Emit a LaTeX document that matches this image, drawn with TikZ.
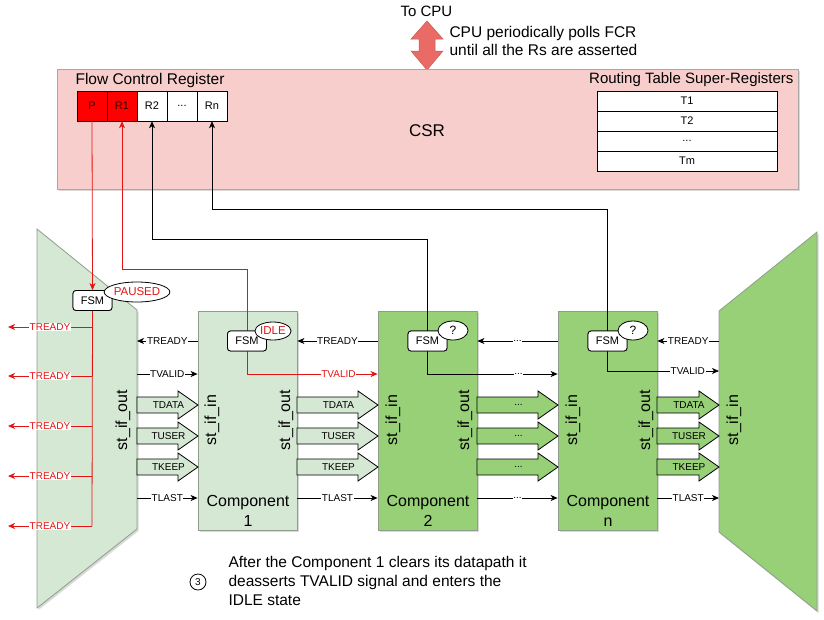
\documentclass[tikz,border=0pt]{standalone}
\usepackage{fontspec}
\setmainfont{Liberation Sans}
\usetikzlibrary{arrows.meta,shadows,shapes.geometric,calc}
\definecolor{lgreen}{HTML}{D5E8D4}
\definecolor{dgreen}{HTML}{97D077}
\definecolor{gborder}{HTML}{8E9E8A}
\definecolor{csrfill}{HTML}{F8CECC}
\definecolor{csrborder}{HTML}{A8A8A8}
\definecolor{sigred}{HTML}{E31414}
\definecolor{regred}{HTML}{FF0000}
\definecolor{arrowred}{HTML}{EA6B66}
\newcommand{\sigblock}[5]{%
  \filldraw[fill=#4, draw=black, line width=0.8pt] (#1,#3-8) -- (#2-20,#3-8) -- (#2-20,#3-14) -- (#2,#3) -- (#2-20,#3+14) -- (#2-20,#3+8) -- (#1,#3+8) -- cycle;
  \node[font=\fontsize{10}{12}\selectfont] at ({(#1+#2)/2+1},#3) {#5};
}
\begin{document}
\begin{tikzpicture}[x=1pt,y=-1pt,
  font=\fontsize{10}{12}\selectfont,
  >={Stealth[length=7pt,width=6pt,inset=2pt]},
  shd/.style={drop shadow={shadow xshift=1.5pt,shadow yshift=-2pt,opacity=0.25,fill=black!60}},
  sig/.style={draw=black,line width=0.8pt,->},
  rsig/.style={draw=sigred,line width=0.8pt},
  lbl/.style={fill=white,inner sep=0.6pt,font=\fontsize{10}{12}\selectfont},
  regcell/.style={draw=black,minimum width=30pt,minimum height=30pt,inner sep=0pt,font=\fontsize{11}{13}\selectfont},
  tabrow/.style={draw=black,fill=white,minimum width=180pt,minimum height=20pt,inner sep=0pt,font=\fontsize{11}{13}\selectfont},
  compbox/.style={draw=gborder,line width=0.8pt,minimum width=99pt,minimum height=219pt,inner sep=0pt,shd},
  fsmbox/.style={draw=black,fill=white,rounded corners=3pt,line width=0.8pt,minimum width=39pt,minimum height=20pt,inner sep=0pt,font=\fontsize{11}{13}\selectfont},
  stbub/.style={ellipse,draw=black,fill=white,line width=0.8pt,inner sep=0pt,font=\fontsize{11.5}{13}\selectfont},
  ifl/.style={rotate=90,font=\fontsize{16}{19}\selectfont},
  cname/.style={align=center,font=\fontsize{16}{20}\selectfont}
]
\useasboundingbox (0,0) rectangle (824,619);

% ---------- top: CPU arrow ----------
\node[font=\fontsize{15}{18}\selectfont] (tocpu) at (426.5,11) {To CPU};
\filldraw[fill=arrowred,draw=arrowred!85!black,line width=0.5pt]
  (427,21) -- (443,39) -- (435,39) -- (435,51) -- (443,51) -- (427,70) -- (411,51) -- (419,51) -- (419,39) -- (411,39) -- cycle;
\node[anchor=west,align=left,font=\fontsize{15.5}{18}\selectfont] (cpunote) at (446,41) {CPU periodically polls FCR\\until all the Rs are asserted};

% ---------- CSR ----------
\node[draw=csrborder,fill=csrfill,line width=0.8pt,minimum width=741pt,minimum height=120pt,inner sep=0pt,shd] (csr) at (427.5,129) {};
\node[font=\fontsize{17}{20}\selectfont] (csrlbl) at (427,131) {CSR};
\node[anchor=west,font=\fontsize{15.5}{18}\selectfont] (fcrlbl) at (72,80) {Flow Control Register};
\node[regcell,fill=regred,text=black!80!red] (p)  at (92,106)  {P};
\node[regcell,fill=regred,text=black!80!red] (r1) at (122,106) {R1};
\node[regcell,fill=white] (r2) at (152,106) {R2};
\node[regcell,fill=white] (rd) at (182,106) {...};
\node[regcell,fill=white] (rn) at (212,106) {Rn};
\node[anchor=east,font=\fontsize{15}{18}\selectfont] (rtlbl) at (797,80) {Routing Table Super-Registers};
\node[tabrow] (t1) at (687,101) {T1};
\node[tabrow] (t2) at (687,121) {T2};
\node[tabrow] (t3) at (687,141) {...};
\node[tabrow] (tm) at (687,161) {Tm};

% ---------- trapezoids ----------
\filldraw[fill=lgreen,draw=gborder,line width=0.8pt,shd] (37,229) -- (137,310) -- (137,529) -- (37,608) -- cycle;
\filldraw[fill=dgreen,draw=gborder,line width=0.8pt,shd] (719,311) -- (817,232) -- (817,611) -- (719,532) -- cycle;
\node[ifl] (ltif) at (123,420) {st\_if\_out};
\node[ifl] (rtif) at (734,420) {st\_if\_in};

% ---------- components ----------
\node[compbox,fill=lgreen] (c1) at (247.5,420.5) {};
\node[compbox,fill=dgreen] (c2) at (427.5,420.5) {};
\node[compbox,fill=dgreen] (cn) at (607.5,420.5) {};
\node[ifl] at (212,420) {st\_if\_in};
\node[ifl] at (286,420) {st\_if\_out};
\node[ifl] at (393,420) {st\_if\_in};
\node[ifl] at (465,420) {st\_if\_out};
\node[ifl] at (573,420) {st\_if\_in};
\node[ifl] at (646,420) {st\_if\_out};
\node[cname] at (248,511) {Component\\1};
\node[cname] at (428,511) {Component\\2};
\node[cname] at (608,511) {Component\\n};

% ---------- row coordinates ----------
\coordinate (lt-rdy) at (137,341);
\coordinate (lt-vld) at (137,374);
\coordinate (lt-lst) at (137,498);
\coordinate (rt-rdy) at (719,341);
\coordinate (rt-vld) at (719,371);
\coordinate (rt-lst) at (719,498);

% ---------- gap: left trapezoid -> component 1 ----------
\draw[sig] (c1.west |- lt-rdy) -- (lt-rdy) node[midway,lbl]{TREADY};
\draw[sig] (lt-vld) -- (c1.west |- lt-vld) node[midway,lbl]{TVALID};
\sigblock{137}{198}{405}{lgreen}{TDATA}
\sigblock{137}{198}{436}{lgreen}{TUSER}
\sigblock{137}{198}{467}{lgreen}{TKEEP}
\draw[sig] (lt-lst) -- (c1.west |- lt-lst) node[midway,lbl]{TLAST};

% ---------- gap: component 1 -> component 2 ----------
\draw[sig] (c2.west |- lt-rdy) -- (c1.east |- lt-rdy) node[midway,lbl]{TREADY};
\sigblock{297}{378}{405}{lgreen}{TDATA}
\sigblock{297}{378}{436}{lgreen}{TUSER}
\sigblock{297}{378}{467}{lgreen}{TKEEP}
\draw[sig] (c1.east |- lt-lst) -- (c2.west |- lt-lst) node[midway,lbl]{TLAST};

% ---------- gap: component 2 -> component n ----------
\draw[sig] (cn.west |- lt-rdy) -- (c2.east |- lt-rdy) node[midway,lbl]{...};
\sigblock{477}{558}{405}{dgreen}{...}
\sigblock{477}{558}{436}{dgreen}{...}
\sigblock{477}{558}{467}{dgreen}{...}
\draw[sig] (c2.east |- lt-lst) -- (cn.west |- lt-lst) node[midway,lbl]{...};

% ---------- gap: component n -> right trapezoid ----------
\draw[sig] (rt-rdy) -- (cn.east |- rt-rdy) node[midway,lbl]{TREADY};
\sigblock{657}{719}{405}{dgreen}{TDATA}
\sigblock{657}{719}{436}{dgreen}{TUSER}
\sigblock{657}{719}{467}{dgreen}{TKEEP}
\draw[sig] (cn.east |- rt-lst) -- (rt-lst) node[midway,lbl]{TLAST};

% ---------- FSMs ----------
\node[fsmbox] (pfsm) at (92.5,300.5) {FSM};
\node[fsmbox] (fsm1) at (247,341) {FSM};
\node[fsmbox] (fsm2) at (427.5,341) {FSM};
\node[fsmbox] (fsmn) at (607.5,341) {FSM};

% control connectors (drawn behind FSM boxes via order below)
\begin{scope}[on background layer/.style={}]
\end{scope}

% P -> pause FSM
\draw[rsig,->] (p.south) -- (pfsm.north);
% pause FSM -> TREADY outputs
\draw[rsig] (pfsm.south) -- (92,526);
\foreach \yy in {327,376,426,476,526}{
  \draw[rsig,->] (92,\yy) -- (8,\yy) node[midway,lbl,text=sigred]{TREADY};
}
% FSM1 <-> R1, TVALID
\draw[rsig,->] (fsm1.north) -- ++(0,-61) -| (r1.south);
\draw[rsig,->] (fsm1.south) |- (c2.west |- lt-vld) node[pos=0.85,lbl,text=sigred]{TVALID};
% FSM2 <-> R2
\draw[sig] (fsm2.north) -- ++(0,-91) -| (r2.south);
\draw[sig] (fsm2.south) |- (cn.west |- lt-vld) node[pos=0.85,lbl]{...};
% FSMn <-> Rn
\draw[sig] (fsmn.north) -- ++(0,-121) -| (rn.south);
\draw[sig] (fsmn.south) |- (rt-vld) node[pos=0.86,lbl]{TVALID};

% redraw FSM boxes on top of the lines
\node[fsmbox] at (pfsm) {FSM};
\node[fsmbox] at (fsm1) {FSM};
\node[fsmbox] at (fsm2) {FSM};
\node[fsmbox] at (fsmn) {FSM};

% state bubbles
\node[stbub,minimum width=60pt,minimum height=20pt,text=sigred] (paused) at (137,292) {PAUSED};
\node[stbub,minimum width=30pt,minimum height=18pt,text=sigred] (idle) at (273,331) {IDLE};
\node[stbub,minimum width=30pt,minimum height=19pt,font=\fontsize{12}{14}\selectfont] (q2) at (453,330.5) {?};
\node[stbub,minimum width=30pt,minimum height=19pt,font=\fontsize{12}{14}\selectfont] (qn) at (633,330.5) {?};

% ---------- bottom note ----------
\node[circle,draw=black,line width=0.8pt,minimum size=16pt,inner sep=0pt,font=\fontsize{10}{12}\selectfont] (step3) at (198,582) {3};
\node[anchor=west,align=left,font=\fontsize{15.5}{19}\selectfont] (note) at (225,581) {After the Component 1 clears its datapath it\\deasserts TVALID signal and enters the\\IDLE state};
\end{tikzpicture}
\end{document}
